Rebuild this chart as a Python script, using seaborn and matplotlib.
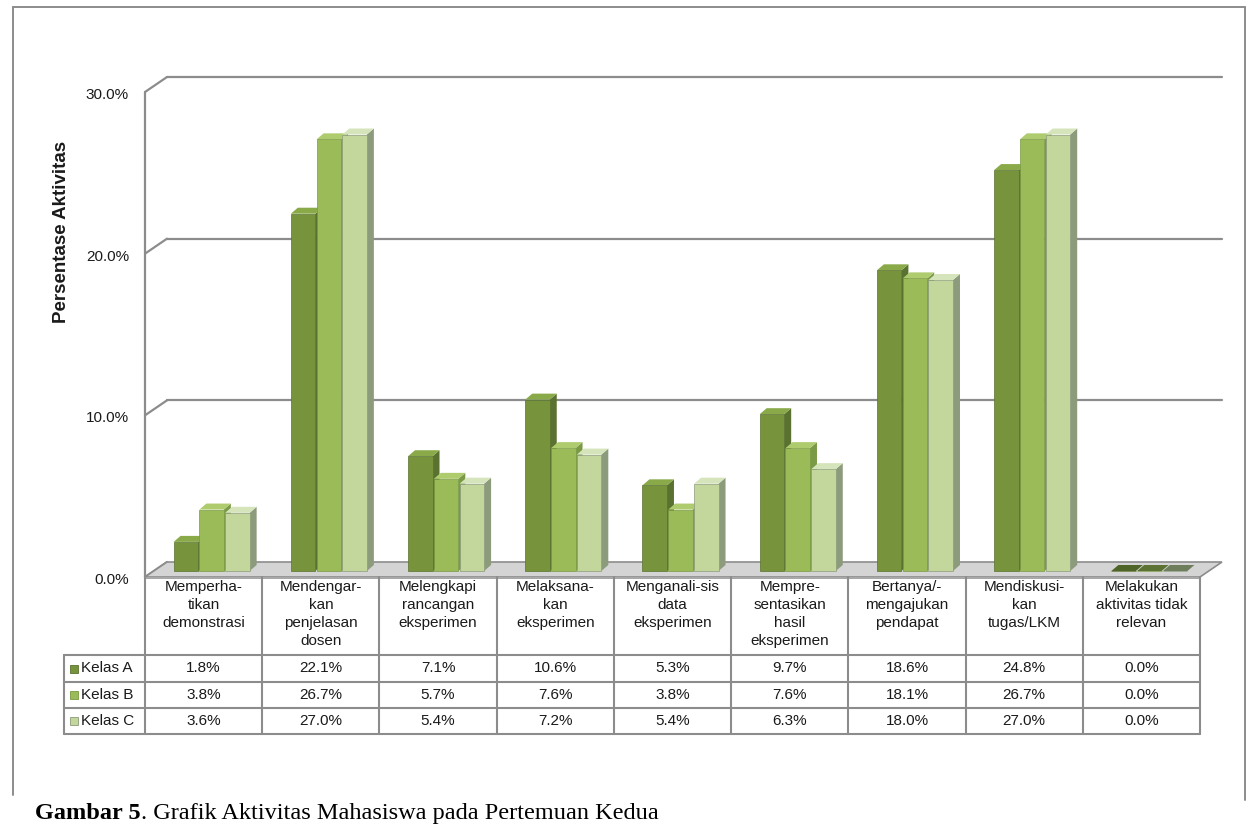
import numpy as np
import pandas as pd
import matplotlib
matplotlib.use("Agg")
import matplotlib.pyplot as plt
from matplotlib.patches import Polygon, Rectangle
from matplotlib.lines import Line2D
from matplotlib.text import Annotation
import seaborn as sns

# ---- data -----------------------------------------------------------------
aktivitas = [
    "Memperha-\ntikan\ndemonstrasi",
    "Mendengar-\nkan\npenjelasan\ndosen",
    "Melengkapi\nrancangan\neksperimen",
    "Melaksana-\nkan\neksperimen",
    "Menganali-sis\ndata\neksperimen",
    "Mempre-\nsentasikan\nhasil\neksperimen",
    "Bertanya/-\nmengajukan\npendapat",
    "Mendiskusi-\nkan\ntugas/LKM",
    "Melakukan\naktivitas tidak\nrelevan",
]
kelas = ["Kelas A", "Kelas B", "Kelas C"]
kelas_a = [1.8, 22.1, 7.1, 10.6, 5.3, 9.7, 18.6, 24.8, 0.0]
kelas_b = [3.8, 26.7, 5.7, 7.6, 3.8, 7.6, 18.1, 26.7, 0.0]
kelas_c = [3.6, 27.0, 5.4, 7.2, 5.4, 6.3, 18.0, 27.0, 0.0]
y_ticks = [0, 10, 20, 30]
y_label = "Persentase Aktivitas"
caption_bold = "Gambar 5"
caption_rest = ". Grafik Aktivitas Mahasiswa pada Pertemuan Kedua"

# ---- style ----------------------------------------------------------------
front_col = ["#77933C", "#9BBB59", "#C3D69B"]
side_col = ["#5A7230", "#7A9A45", "#8C9B7C"]
top_col = ["#8AAA4A", "#AECB6E", "#D6E4BC"]
flat_col = ["#4F6528", "#5B7232", "#6E7E5C"]
grid_col = "#8C8C8C"
txt_col = "#1a1a1a"
fs = 11

sns.set_theme(style="white")
plt.rcParams["font.family"] = ["Liberation Sans", "DejaVu Sans"]

W, H = 1247, 840
fig = plt.figure(figsize=(W / 100, H / 100), dpi=100)
fig.patch.set_facecolor("white")


def fx(x):
    return x / W


def fy(y):
    return 1 - y / H


# axes = plane in which the columns stand (mid depth of the 3-D box)
ax_left, ax_right, ax_y0, ax_y30 = 153, 1208, 571, 86
ax = fig.add_axes([fx(ax_left), fy(ax_y0), (ax_right - ax_left) / W,
                   (ax_y0 - ax_y30) / H])

df = pd.DataFrame({
    "aktivitas": np.repeat(aktivitas, 3),
    "kelas": kelas * len(aktivitas),
    "persen": np.column_stack([kelas_a, kelas_b, kelas_c]).ravel(),
})
sns.barplot(data=df, x="aktivitas", y="persen", hue="kelas",
            order=aktivitas, hue_order=kelas, palette=front_col,
            saturation=1, width=0.66, gap=0.05, errorbar=None,
            legend=False, ax=ax)
ax.set_xlim(-0.5, len(aktivitas) - 0.5)
ax.set_ylim(y_ticks[0], y_ticks[-1])
ax.set_axis_off()

# pixel -> data unit conversion
ux = (ax.get_xlim()[1] - ax.get_xlim()[0]) / ax.bbox.width
uy = (ax.get_ylim()[1] - ax.get_ylim()[0]) / ax.bbox.height

# depth offsets (pixels): front plane, back wall, column depth
fdx, fdy = -8 * ux, -6 * uy
bdx, bdy = 14 * ux, 9 * uy
sx, sy = 7 * ux, 6 * uy

x_lo, x_hi = ax.get_xlim()

# floor
floor = Polygon([(x_lo + fdx, fdy), (x_hi + fdx, fdy), (x_hi + bdx, bdy),
                 (x_lo + bdx, bdy)], closed=True, facecolor="#D4D4D4",
                edgecolor=grid_col, lw=1.2, zorder=1, clip_on=False)
ax.add_patch(floor)
slab = Polygon([(x_lo + fdx, fdy), (x_hi + fdx, fdy), (x_hi + fdx, fdy - 2 * uy),
                (x_lo + fdx, fdy - 2 * uy)], closed=True, facecolor="#A8A8A8",
               edgecolor="none", zorder=1, clip_on=False)
ax.add_patch(slab)

# back wall gridlines, left wall and value labels of the axis
for t in y_ticks:
    if t > y_ticks[0]:
        ax.add_line(Line2D([x_lo + bdx, x_hi + bdx], [t + bdy, t + bdy],
                           color=grid_col, lw=1.6, zorder=0.5, clip_on=False))
    ax.add_line(Line2D([x_lo + fdx, x_lo + bdx], [t + fdy, t + bdy],
                       color=grid_col, lw=1.6, zorder=0.5, clip_on=False))
    ax.text(-24 / ax.bbox.width, t + fdy - 3 * uy, f"{t:.1f}%",
            transform=ax.get_yaxis_transform(), ha="right", va="center",
            fontsize=fs, color=txt_col, clip_on=False)
ax.add_line(Line2D([x_lo + fdx, x_lo + fdx], [fdy, y_ticks[-1] + fdy],
                   color=grid_col, lw=1.6, zorder=0.5, clip_on=False))

# 3-D faces for every column, drawn left to right
bars = []
for k, cont in enumerate(ax.containers):
    for p in cont.patches:
        bars.append((p.get_x(), k, p))
bars.sort(key=lambda b: b[0])
for r, (x0, k, p) in enumerate(bars):
    w, h = p.get_width(), p.get_height()
    z = 3 + r * 0.01
    side = Polygon([(x0 + w, 0), (x0 + w + sx, sy), (x0 + w + sx, h + sy),
                    (x0 + w, h)], closed=True, facecolor=side_col[k],
                   edgecolor="none", zorder=z, clip_on=False)
    top = Polygon([(x0, h), (x0 + w, h), (x0 + w + sx, h + sy), (x0 + sx, h + sy)],
                  closed=True, facecolor=top_col[k] if h > 0 else flat_col[k],
                  edgecolor="none", zorder=z, clip_on=False)
    ax.add_patch(side)
    ax.add_patch(top)
    p.set_zorder(z + 0.005)
    p.set_edgecolor(side_col[k])
    p.set_linewidth(0.5)
    p.set_clip_on(False)

# ---- data table -----------------------------------------------------------
to_disp = ax.transData.transform
col_x = [to_disp((i - 0.5, 0))[0] - 8 for i in range(len(aktivitas) + 1)]
head_top = H - (to_disp((0, 0))[1] - 6)
row_y = [655, 682, 708, 734]
label_left = 64
tbl_kw = dict(color=grid_col, lw=1.5, zorder=5)

for xb in col_x:
    fig.add_artist(Line2D([fx(xb), fx(xb)], [fy(head_top), fy(row_y[-1])], **tbl_kw))
fig.add_artist(Line2D([fx(label_left), fx(label_left)], [fy(row_y[0]), fy(row_y[-1])],
                      **tbl_kw))
for yb in row_y:
    fig.add_artist(Line2D([fx(label_left), fx(col_x[-1])], [fy(yb), fy(yb)], **tbl_kw))

for i, lab in enumerate(aktivitas):
    cx = (col_x[i] + col_x[i + 1]) / 2
    fig.text(fx(cx), fy(head_top + 3), lab, ha="center", va="top",
             fontsize=fs, linespacing=1.36, color=txt_col)

for k, vals in enumerate([kelas_a, kelas_b, kelas_c]):
    cy = (row_y[k] + row_y[k + 1]) / 2
    for i, v in enumerate(vals):
        cx = (col_x[i] + col_x[i + 1]) / 2
        fig.text(fx(cx), fy(cy), f"{v:.1f}%", ha="center", va="center",
                 fontsize=fs, color=txt_col)
    fig.add_artist(Rectangle((fx(70), fy(cy + 4)), 8 / W, 8 / H,
                             facecolor=front_col[k], edgecolor=side_col[k], lw=0.6))
    fig.text(fx(81), fy(cy), kelas[k], ha="left", va="center",
             fontsize=fs, color=txt_col)

# axis title
fig.text(fx(61), fy(232), y_label, rotation=90, ha="center", va="center",
         fontsize=13.5, fontweight="bold", color=txt_col)

# chart frame (open at the bottom)
frame_kw = dict(color="#8C8C8C", lw=1.4)
fig.add_artist(Line2D([fx(13), fx(13)], [fy(7), fy(795)], **frame_kw))
fig.add_artist(Line2D([fx(13), fx(1245)], [fy(7), fy(7)], **frame_kw))
fig.add_artist(Line2D([fx(1245), fx(1245)], [fy(7), fy(800)], **frame_kw))

# caption
cap = fig.text(fx(35), fy(824), caption_bold, ha="left", va="bottom",
               fontsize=17.5, fontweight="bold", family="Liberation Serif",
               color="black")
fig.add_artist(Annotation(caption_rest, xy=(1, 0), xycoords=cap, ha="left",
                          va="bottom", fontsize=17.5, family="Liberation Serif",
                          color="black"))

fig.savefig("out.png", dpi=100)
